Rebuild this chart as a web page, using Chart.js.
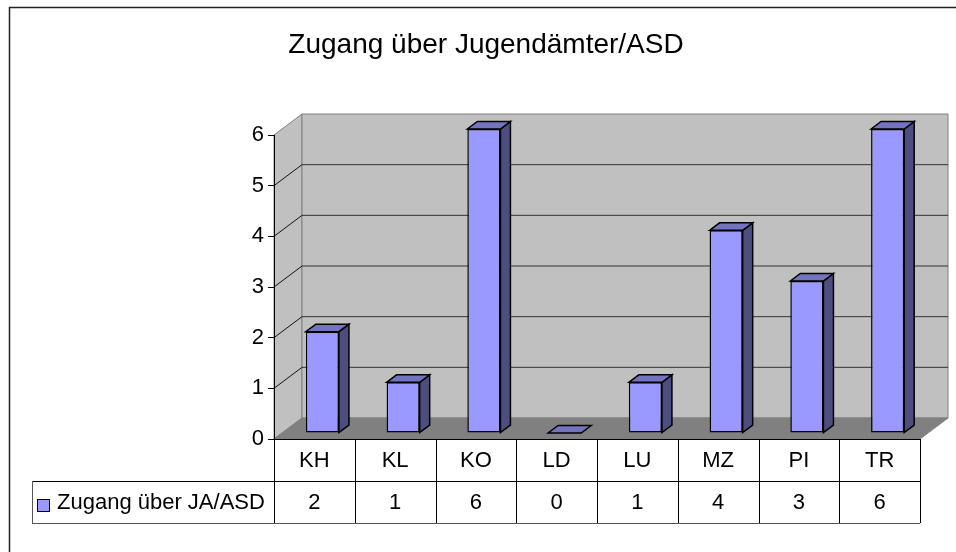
<!DOCTYPE html>
<html>
<head>
<meta charset="utf-8">
<title>Zugang über Jugendämter/ASD</title>
<script src="https://cdn.jsdelivr.net/npm/chart.js@4.4.1/dist/chart.umd.min.js"></script>
<style>
  html, body { margin: 0; padding: 0; background: #fff; }
  #wrap { width: 956px; height: 552px; }
</style>
</head>
<body>
<div id="wrap"><canvas id="zugangChart"></canvas></div>
<script>
const chartTitle = "Zugang über Jugendämter/ASD";
const seriesLabel = "Zugang über JA/ASD";
const categories = ["KH", "KL", "KO", "LD", "LU", "MZ", "PI", "TR"];
const values = [2, 1, 6, 0, 1, 4, 3, 6];
const yTicks = [0, 1, 2, 3, 4, 5, 6];

const FONT = "'Liberation Sans', Arial, sans-serif";
const TEXT_SIZE = 22;
const wallDepth = { dx: 28, dy: 21 }; // front plane -> back wall
const barShift = { dx: 8, dy: 6 }; // bars sit a bit behind the front plane
const barDepth = { dx: 10, dy: 7.5 };
const rowH = 42; // data table row height

Chart.defaults.font.family = FONT;

function poly(ctx, pts, fill, stroke, lw) {
  ctx.beginPath();
  ctx.moveTo(pts[0][0], pts[0][1]);
  for (let i = 1; i < pts.length; i++) ctx.lineTo(pts[i][0], pts[i][1]);
  ctx.closePath();
  if (fill) { ctx.fillStyle = fill; ctx.fill(); }
  if (stroke) { ctx.strokeStyle = stroke; ctx.lineWidth = lw || 1; ctx.stroke(); }
}

function seg(ctx, x1, y1, x2, y2, color, lw) {
  ctx.beginPath();
  ctx.moveTo(x1, y1);
  ctx.lineTo(x2, y2);
  ctx.strokeStyle = color;
  ctx.lineWidth = lw || 1;
  ctx.stroke();
}

const excel3d = {
  id: "excel3d",
  beforeDraw(chart) {
    const { ctx, chartArea: a, scales: { y } } = chart;
    const dx = wallDepth.dx, dy = wallDepth.dy;
    ctx.save();
    // outer frame (cut off on the right/bottom in the original)
    ctx.beginPath();
    ctx.moveTo(9.5, chart.height + 5);
    ctx.lineTo(9.5, 7.5);
    ctx.lineTo(chart.width + 5, 7.5);
    ctx.strokeStyle = "#222";
    ctx.lineWidth = 1.5;
    ctx.stroke();

    // side wall + back wall
    poly(ctx, [[a.left, a.top], [a.left + dx, a.top - dy], [a.left + dx, a.bottom - dy], [a.left, a.bottom]], "#c0c0c0", "#808080");
    poly(ctx, [[a.left + dx, a.top - dy], [a.right + dx, a.top - dy], [a.right + dx, a.bottom - dy], [a.left + dx, a.bottom - dy]], "#c0c0c0", "#808080");

    // gridlines on walls
    yTicks.forEach((v) => {
      if (v === yTicks[0] || v === yTicks[yTicks.length - 1]) return;
      const py = y.getPixelForValue(v);
      seg(ctx, a.left + dx, py - dy, a.right + dx, py - dy, "#333");
      seg(ctx, a.left, py, a.left + dx, py - dy, "#111");
    });

    // floor
    poly(ctx, [[a.left, a.bottom], [a.left + dx, a.bottom - dy], [a.right + dx, a.bottom - dy], [a.right, a.bottom]], "#808080", "#808080");
    ctx.restore();
  },
  beforeDatasetsDraw(chart) {
    chart.ctx.save();
    chart.ctx.translate(barShift.dx, -barShift.dy);
  },
  afterDatasetsDraw(chart) {
    const ctx = chart.ctx;
    chart.getDatasetMeta(0).data.forEach((bar) => {
      const { x, y, base, width } = bar.getProps(["x", "y", "base", "width"], true);
      const l = x - width / 2, r = x + width / 2;
      if (base - y > 0.5) {
        poly(ctx, [[r, y], [r + barDepth.dx, y - barDepth.dy], [r + barDepth.dx, base - barDepth.dy], [r, base]], "#4d4d80", "#000", 1.5);
      }
      poly(ctx, [[l, y], [l + barDepth.dx, y - barDepth.dy], [r + barDepth.dx, y - barDepth.dy], [r, y]], "#7373bf", "#000", 1.5);
    });
    ctx.restore();
  },
  afterDraw(chart) {
    const { ctx, chartArea: a, scales: { x } } = chart;
    const colW = (a.right - a.left) / categories.length;
    const top = a.bottom, mid = a.bottom + rowH, bot = a.bottom + 2 * rowH;
    const legendLeft = 32;
    ctx.save();

    // title
    ctx.fillStyle = "#000";
    ctx.font = "28px " + FONT;
    ctx.textAlign = "center";
    ctx.textBaseline = "alphabetic";
    ctx.fillText(chartTitle, 486, 53);

    // data table lines
    seg(ctx, a.left, top + 0.5, a.right, top + 0.5, "#000", 1);
    seg(ctx, legendLeft, mid + 0.5, a.right, mid + 0.5, "#000", 1);
    seg(ctx, legendLeft, bot + 0.5, a.right, bot + 0.5, "#555", 1);
    seg(ctx, legendLeft + 0.5, mid, legendLeft + 0.5, bot, "#555", 1);
    for (let i = 0; i <= categories.length; i++) {
      const px = Math.round(a.left + i * colW) + 0.5;
      seg(ctx, px, top, px, bot, "#000", 1);
    }

    // table text
    ctx.font = TEXT_SIZE + "px " + FONT;
    ctx.textBaseline = "middle";
    ctx.textAlign = "center";
    categories.forEach((c, i) => {
      const cx = x.getPixelForValue(i);
      ctx.fillText(c, cx, top + rowH / 2 + 1);
      ctx.fillText(String(values[i]), cx, mid + rowH / 2 + 1);
    });

    // legend key
    ctx.fillStyle = "#9999ff";
    ctx.fillRect(37, mid + 18, 13, 13);
    ctx.strokeStyle = "#000";
    ctx.lineWidth = 1;
    ctx.strokeRect(37.5, mid + 18.5, 12, 12);
    ctx.fillStyle = "#000";
    ctx.textAlign = "left";
    ctx.fillText(seriesLabel, 57, mid + rowH / 2 + 1);
    ctx.restore();
  },
};

const ctx = document.getElementById("zugangChart").getContext("2d");

const zugangChart = new Chart(ctx, {
  type: "bar",
  data: {
    labels: categories,
    datasets: [
      {
        label: seriesLabel,
        data: values,
        backgroundColor: "#9999ff",
        borderColor: "#000",
        borderWidth: 1.5,
        borderSkipped: false,
        barPercentage: 0.41,
        categoryPercentage: 1,
        clip: false,
      },
    ],
  },
  options: {
    responsive: true,
    maintainAspectRatio: false,
    animation: false,
    layout: {
      padding: { left: 10, right: 36, top: 135, bottom: 113 },
    },
    scales: {
      x: {
        display: false,
      },
      y: {
        min: yTicks[0],
        max: yTicks[yTicks.length - 1],
        ticks: {
          stepSize: 1,
          color: "#000",
          padding: 4,
          font: { size: TEXT_SIZE },
        },
        grid: {
          drawOnChartArea: false,
          color: "#000",
          tickLength: 6,
        },
        border: { color: "#000" },
        afterFit(scale) {
          scale.width = 264;
        },
      },
    },
    plugins: {
      legend: { display: false },
      tooltip: { enabled: false },
    },
  },
  plugins: [excel3d],
});
</script>
</body>
</html>
